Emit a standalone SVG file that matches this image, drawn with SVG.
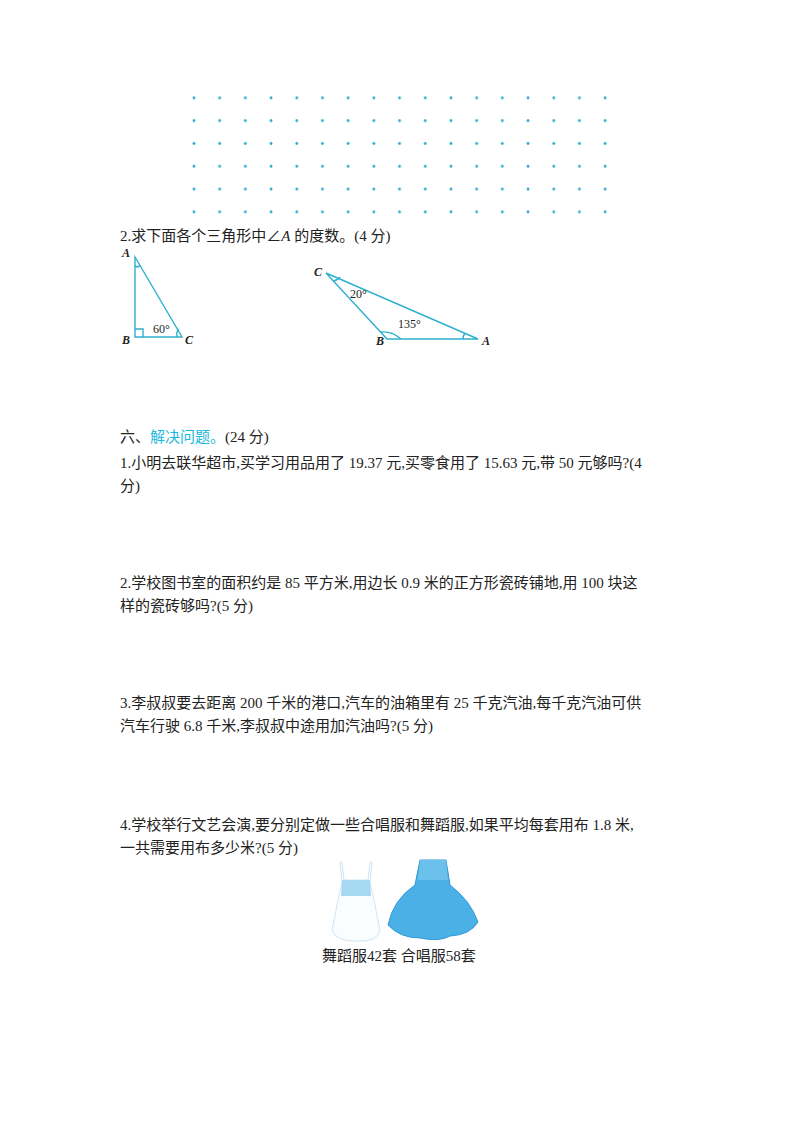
<svg xmlns="http://www.w3.org/2000/svg" width="800" height="1132" viewBox="0 0 800 1132">
<defs>
<style>
.t{font-family:"Liberation Serif","Noto Sans CJK SC",serif;font-size:15px;fill:#222}
.l{font-family:"Liberation Serif",serif;font-size:12px;font-style:italic;font-weight:bold;fill:#222}
.s{font-family:"Liberation Serif",serif;font-size:12px;fill:#222}
.g{fill:none;stroke:#2fb0cf;stroke-width:1.4}
</style>
<pattern id="dots" x="181.1" y="86.5" width="25.7" height="22.8" patternUnits="userSpaceOnUse">
<circle cx="12.85" cy="11.4" r="1.4" fill="#2aa8cc"/>
</pattern>
</defs>
<rect width="800" height="1132" fill="#fff"/>
<g id="grid"><rect x="181" y="86" width="437" height="137" fill="url(#dots)"/></g>
<text class="t" x="120" y="241">2.求下面各个三角形中∠<tspan font-style="italic">A</tspan> 的度数。(4 分)</text>
<g id="tri1">
<polygon class="g" points="135,257 135,337 182,337"/>
<polyline class="g" points="135,329 143,329 143,337" stroke-width="1"/>
<path class="g" d="M135,266 Q139,268 140,265" stroke-width="1"/>
<path class="g" d="M177,337 Q176,331 179,329" stroke-width="1"/>
<text class="l" x="122" y="257">A</text><text class="l" x="122" y="344">B</text><text class="l" x="185" y="344">C</text>
<text class="s" x="153" y="333">60°</text>
</g>
<g id="tri2">
<polygon class="g" points="326,273 387,339 478,339"/>
<path class="g" d="M333,281 Q338,280 340,277" stroke-width="1"/>
<path class="g" d="M381,332 Q392,331 401,339" stroke-width="1"/>
<path class="g" d="M463,339 Q463,335 465,334" stroke-width="1"/>
<text class="l" x="314" y="276">C</text><text class="l" x="376" y="345">B</text><text class="l" x="482" y="345">A</text>
<text class="s" x="350" y="298">20°</text><text class="s" x="398" y="328">135°</text>
</g>
<text class="t" x="120" y="442">六、<tspan fill="#1cb8e0">解决问题。</tspan>(24 分)</text>
<text class="t" x="120" y="468">1.小明去联华超市,买学习用品用了 19.37 元,买零食用了 15.63 元,带 50 元够吗?(4</text>
<text class="t" x="120" y="491">分)</text>
<text class="t" x="120" y="588">2.学校图书室的面积约是 85 平方米,用边长 0.9 米的正方形瓷砖铺地,用 100 块这</text>
<text class="t" x="120" y="611">样的瓷砖够吗?(5 分)</text>
<text class="t" x="120" y="708">3.李叔叔要去距离 200 千米的港口,汽车的油箱里有 25 千克汽油,每千克汽油可供</text>
<text class="t" x="120" y="731">汽车行驶 6.8 千米,李叔叔中途用加汽油吗?(5 分)</text>
<text class="t" x="120" y="830">4.学校举行文艺会演,要分别定做一些合唱服和舞蹈服,如果平均每套用布 1.8 米,</text>
<text class="t" x="120" y="853">一共需要用布多少米?(5 分)</text>
<g id="dress1">
<path d="M342,862 L344,880 L368,880 L370,862 L372,862 L370,882 L374,900 L380,930 Q378,942 358,941 Q336,942 332,930 L338,900 L342,882 L340,862 Z" fill="#fafdff" stroke="#cfe6f2"/>
<path d="M342,880 L370,880 L371,896 L341,896 Z" fill="#a7d8f2"/>
</g>
<g id="dress2">
<path d="M420,860 L446,860 L450,885 Q470,900 478,922 Q470,935 450,936 Q440,942 420,938 Q400,938 388,925 Q393,900 415,885 Z" fill="#4ab0e6" stroke="#2e9bd6"/>
<path d="M420,860 L446,860 L448,880 L418,880 Z" fill="#6cc1ec"/>
</g>
<text class="t" x="322" y="961" font-size="12.5">舞蹈服42套 合唱服58套</text>
</svg>
